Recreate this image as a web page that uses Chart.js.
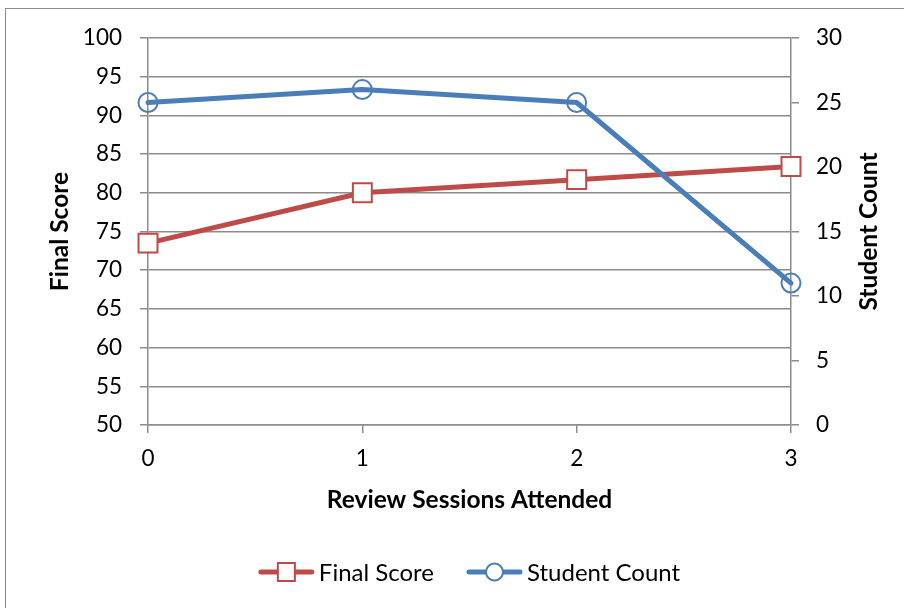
<!DOCTYPE html>
<html>
<head>
<meta charset="utf-8">
<script src="https://cdn.jsdelivr.net/npm/chart.js@4/dist/chart.umd.min.js"></script>
<style>
  html, body { margin: 0; padding: 0; background: #fff; overflow: hidden; }
  #frame { position: absolute; left: 5px; top: 8px; width: 1000px; height: 1000px; border: 1px solid #8c8c8c; }
  #wrap { position: absolute; left: 0; top: 0; width: 904px; height: 608px; }
</style>
</head>
<body>
<div id="frame"></div>
<div id="wrap"><canvas id="c" width="904" height="608"></canvas></div>
<script>
// Review sessions attended vs. average final score and number of students
const sessions = ['0', '1', '2', '3'];
const finalScore = [73.5, 80.0, 81.7, 83.4];
const studentCount = [25, 26, 25, 11];

const RED = '#BE4B48';
const BLUE = '#4A7EBB';
const GRID = '#8c8c8c';
const FONT = 'Lato';
const TICK_SIZE = 22.5;
const TITLE_SIZE = 24.5;

// Legend row: line sample with marker, then the series name
const legendRow = {
  id: 'legendRow',
  afterDraw(chart) {
    const ctx = chart.ctx;
    const ds = chart.data.datasets;
    const sample = 55, gapText = 5, gapItem = 33;
    ctx.save();
    ctx.font = '24px ' + FONT;
    const widths = ds.map(d => sample + gapText + ctx.measureText(d.label).width);
    const total = widths.reduce((a, b) => a + b, 0) + gapItem * (ds.length - 1);
    const area = chart.chartArea;
    let x = (area.left + area.right) / 2 - total / 2;
    const y = 572;
    ds.forEach((d, i) => {
      ctx.strokeStyle = d.borderColor;
      ctx.lineWidth = d.borderWidth;
      ctx.lineCap = 'round';
      ctx.beginPath();
      ctx.moveTo(x + 2, y);
      ctx.lineTo(x + sample - 2, y);
      ctx.stroke();
      const cx = x + sample / 2;
      ctx.lineWidth = 2;
      ctx.fillStyle = '#fff';
      ctx.beginPath();
      if (d.pointStyle === 'rect') {
        ctx.rect(cx - 8.5, y - 9, 17, 18);
      } else {
        ctx.arc(cx, y, 8.5, 0, Math.PI * 2);
      }
      ctx.fill();
      ctx.stroke();
      ctx.fillStyle = '#000';
      ctx.textAlign = 'left';
      ctx.textBaseline = 'middle';
      ctx.fillText(d.label, x + sample + gapText, y + 1);
      x += widths[i] + gapItem;
    });
    ctx.restore();
  }
};

// Right-hand axis title, reading bottom to top
const rightTitle = {
  id: 'rightTitle',
  afterDraw(chart) {
    const s = chart.scales.y1;
    const ctx = chart.ctx;
    ctx.save();
    ctx.translate(s.left + 78, (s.top + s.bottom) / 2);
    ctx.rotate(-Math.PI / 2);
    ctx.font = 'bold ' + TITLE_SIZE + 'px ' + FONT;
    ctx.fillStyle = '#000';
    ctx.textAlign = 'center';
    ctx.textBaseline = 'middle';
    ctx.fillText('Student Count', 0, 0);
    ctx.restore();
  }
};

new Chart(document.getElementById('c'), {
  type: 'line',
  data: {
    labels: sessions,
    datasets: [
      {
        label: 'Final Score',
        data: finalScore,
        yAxisID: 'y',
        borderColor: RED,
        backgroundColor: '#fff',
        borderWidth: 5,
        borderCapStyle: 'round',
        borderJoinStyle: 'round',
        pointStyle: 'rect',
        pointRadius: 13.4,
        pointBorderWidth: 2,
        pointBorderColor: RED,
        pointBackgroundColor: '#fff',
        tension: 0,
        clip: false,
        order: 2
      },
      {
        label: 'Student Count',
        data: studentCount,
        yAxisID: 'y1',
        borderColor: BLUE,
        backgroundColor: '#fff',
        borderWidth: 5,
        borderCapStyle: 'round',
        borderJoinStyle: 'round',
        pointStyle: 'circle',
        pointRadius: 9.5,
        pointBorderWidth: 2,
        pointBorderColor: BLUE,
        pointBackgroundColor: 'rgba(255,255,255,0)',
        tension: 0,
        clip: false,
        order: 1
      }
    ]
  },
  options: {
    responsive: false,
    animation: false,
    events: [],
    layout: { padding: { top: 38, left: 0, right: 0, bottom: 0 } },
    plugins: {
      legend: { display: false },
      tooltip: { enabled: false }
    },
    scales: {
      x: {
        type: 'category',
        offset: false,
        grid: { drawOnChartArea: false, drawTicks: true, tickLength: 8, color: GRID, lineWidth: 1.5 },
        border: { display: true, color: GRID, width: 1.5 },
        ticks: { color: '#000', font: { family: FONT, size: TICK_SIZE }, padding: 12, maxRotation: 0 },
        title: {
          display: true,
          text: 'Review Sessions Attended',
          color: '#000',
          font: { family: FONT, size: TITLE_SIZE, weight: 'bold' },
          padding: { top: 0, bottom: 93 }
        },
        afterFit(s) { s.height = 183; }
      },
      y: {
        position: 'left',
        min: 50,
        max: 100,
        grid: { color: GRID, lineWidth: 1.5, tickLength: 8 },
        border: { display: true, color: GRID, width: 1.5 },
        ticks: { stepSize: 5, color: '#000', font: { family: FONT, size: TICK_SIZE }, padding: 18 },
        title: {
          display: true,
          text: 'Final Score',
          color: '#000',
          font: { family: FONT, size: TITLE_SIZE, weight: 'bold' },
          padding: { top: 45, bottom: 0 }
        },
        afterFit(s) { s.width = 148; }
      },
      y1: {
        position: 'right',
        min: 0,
        max: 30,
        grid: { drawOnChartArea: false, color: GRID, lineWidth: 1.5, tickLength: 8 },
        border: { display: true, color: GRID, width: 1.5 },
        ticks: { stepSize: 5, color: '#000', font: { family: FONT, size: TICK_SIZE }, padding: 17 },
        title: { display: false },
        afterFit(s) { s.width = 113; }
      }
    }
  },
  plugins: [legendRow, rightTitle]
});
</script>
</body>
</html>
